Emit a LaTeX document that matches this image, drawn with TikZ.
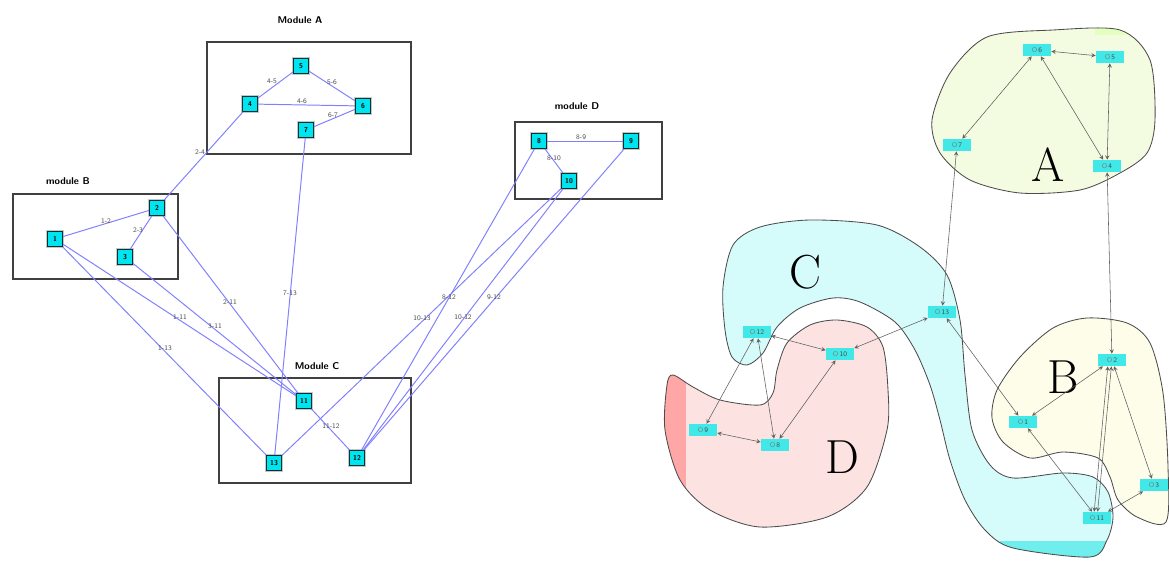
\documentclass[tikz,border=0pt]{standalone}
\usepackage{tikz}
\usetikzlibrary{arrows}
\definecolor{boxcyan}{RGB}{0,228,240}
\definecolor{linkblue}{RGB}{128,128,255}
\definecolor{tagcyan}{RGB}{64,232,232}
\definecolor{zoneA}{RGB}{243,251,224}
\definecolor{zoneB}{RGB}{253,253,234}
\definecolor{zoneC}{RGB}{214,251,251}
\definecolor{zoneD}{RGB}{253,226,226}
\def\zoneApath{plot[smooth cycle] coordinates {(987,37) (1053,30) (1120,30) (1150,60) (1155,120) (1147,153) (1120,173) (1080,190) (1020,193) (970,180) (940,153) (932,120) (950,73)}}
\def\zoneBpath{plot[smooth cycle] coordinates {(1087,318) (1127,323) (1150,343) (1163,393) (1168,467) (1166,522) (1137,517) (1118,500) (1110,477) (1098,458) (1063,452) (1030,458) (1003,442) (992,418) (997,390) (1020,357) (1053,328)}}
\def\zoneCpath{plot[smooth cycle] coordinates {(723,287) (733,245) (760,227) (810,220) (877,225) (920,247) (947,275) (960,320) (965,375) (972,430) (990,465) (1013,478) (1063,473) (1093,477) (1108,492) (1113,517) (1107,540) (1090,557) (1013,548) (985,530) (965,500) (950,460) (940,420) (930,385) (915,350) (895,322) (860,302) (833,298) (800,308) (777,327) (763,353) (747,365) (732,357) (725,330)}}
\def\zoneDpath{plot[smooth cycle] coordinates {(787,343) (810,325) (837,320) (867,327) (883,347) (888,390) (887,430) (867,487) (827,517) (760,527) (710,510) (680,480) (665,430) (667,385) (673,375) (693,387) (720,400) (760,405) (773,393) (777,370)}}

\begin{document}
\begin{tikzpicture}[x=0.025cm, y=-0.025cm,
	modbox/.style={draw=black!75, line width=1.6pt},
	modtitle/.style={font=\sffamily\bfseries\scriptsize},
	lnode/.style={draw=teal!40!black, line width=0.6pt, fill=boxcyan, minimum size=0.38cm, inner sep=0pt, font=\sffamily\bfseries\tiny, preaction={draw=gray!45, line width=2.2pt}},
	link/.style={linkblue, line width=0.7pt},
	elabel/.style={font=\sffamily\tiny, text=black!70, inner sep=0.5pt},
	rnode/.style={fill=tagcyan, minimum width=0.7cm, minimum height=0.3cm, inner sep=0pt, font=\sffamily\tiny, text=gray!60!black},
	rlink/.style={<->, >=stealth, gray!75!black, line width=0.4pt},
	zonetag/.style={font=\fontsize{34}{34}\selectfont}]
			%%%%% START %%%%%
			\useasboundingbox (0,0) rectangle (1169,560);
			
			% left: modules
			\draw[modbox] (207,42) rectangle (411,154);
			\node[modtitle] (titleA) at (300,20) {Module A};
			\draw[modbox] (13,194) rectangle (178,279);
			\node[modtitle] (titleB) at (68,181) {module B};
			\draw[modbox] (515,122) rectangle (662,199);
			\node[modtitle] (titleD) at (577,106) {module D};
			\draw[modbox] (219,378) rectangle (411,483);
			\node[modtitle] (titleC) at (317,366) {Module C};
			
			\node[lnode] (m1) at (55,239) {1};
			\node[lnode] (m2) at (157,208) {2};
			\node[lnode] (m3) at (125,257) {3};
			\node[lnode] (m4) at (250,104) {4};
			\node[lnode] (m5) at (301,66) {5};
			\node[lnode] (m6) at (363,106) {6};
			\node[lnode] (m7) at (306,130) {7};
			\node[lnode] (m8) at (539,141) {8};
			\node[lnode] (m9) at (631,141) {9};
			\node[lnode] (m10) at (569,181) {10};
			\node[lnode] (m11) at (304,401) {11};
			\node[lnode] (m12) at (357,458) {12};
			\node[lnode] (m13) at (274,463) {13};
			
			\draw[link] (m1) -- (m2);
			\draw[link] (m2) -- (m3);
			\draw[link] (m2) -- (m4);
			\draw[link] (m4) -- (m5);
			\draw[link] (m4) -- (m6);
			\draw[link] (m5) -- (m6);
			\draw[link] (m6) -- (m7);
			\draw[link] (m7) -- (m13);
			\draw[link] (m1) -- (m11);
			\draw[link] (m1) -- (m13);
			\draw[link] (m2) -- (m11);
			\draw[link] (m3) -- (m11);
			\draw[link] (m8) -- (m9);
			\draw[link] (m8) -- (m10);
			\draw[link] (m8) -- (m12);
			\draw[link] (m9) -- (m12);
			\draw[link] (m10) -- (m12);
			\draw[link] (m10) -- (m13);
			\draw[link] (m11) -- (m12);
			
			\node[elabel] (e12) at (106,221) {1-2};
			\node[elabel] (e23) at (138,230) {2-3};
			\node[elabel] (e24) at (200,152) {2-4};
			\node[elabel] (e45) at (272,81) {4-5};
			\node[elabel] (e56) at (332,82) {5-6};
			\node[elabel] (e46) at (302,101) {4-6};
			\node[elabel] (e67) at (333,115) {6-7};
			\node[elabel] (e89) at (581,137) {8-9};
			\node[elabel] (e810) at (554,158) {8-10};
			\node[elabel] (e211) at (230,302) {2-11};
			\node[elabel] (e713) at (290,293) {7-13};
			\node[elabel] (e111) at (180,317) {1-11};
			\node[elabel] (e311) at (215,326) {3-11};
			\node[elabel] (e113) at (165,348) {1-13};
			\node[elabel] (e812) at (449,297) {8-12};
			\node[elabel] (e912) at (494,297) {9-12};
			\node[elabel] (e1013) at (422,318) {10-13};
			\node[elabel] (e1012) at (463,317) {10-12};
			\node[elabel] (e1112) at (331,426) {11-12};
			
			% right: zones
			\fill[zoneC] \zoneCpath;
			\begin{scope}
				\clip \zoneCpath;
				\fill[tagcyan!75] (1000,541) rectangle (1120,560);
			\end{scope}
			\draw[black!70, line width=0.6pt] \zoneCpath;
			
			\fill[zoneD] \zoneDpath;
			\begin{scope}
				\clip \zoneDpath;
				\fill[red!35] (660,360) rectangle (686,500);
			\end{scope}
			\draw[black!70, line width=0.6pt] \zoneDpath;
			
			\fill[zoneA] \zoneApath;
			\begin{scope}
				\clip \zoneApath;
				\fill[green!40!yellow!25] (1095,25) rectangle (1160,35);
			\end{scope}
			\draw[black!70, line width=0.6pt] \zoneApath;
			
			\fill[zoneB] \zoneBpath;
			\draw[black!70, line width=0.6pt] \zoneBpath;
			
			\node[zonetag] (tagA) at (1048,165) {A};
			\node[zonetag] (tagB) at (1063,377) {B};
			\node[zonetag] (tagC) at (805,272) {C};
			\node[zonetag] (tagD) at (842,457) {D};
			
			\node[rnode] (n1) at (1023,422) {\textcolor{gray}{O}\,1};
			\node[rnode] (n2) at (1112,360) {\textcolor{gray}{O}\,2};
			\node[rnode] (n3) at (1154,485) {\textcolor{gray}{O}\,3};
			\node[rnode] (n4) at (1107,166) {\textcolor{gray}{O}\,4};
			\node[rnode] (n5) at (1110,57) {\textcolor{gray}{O}\,5};
			\node[rnode] (n6) at (1037,50) {\textcolor{gray}{O}\,6};
			\node[rnode] (n7) at (957,145) {\textcolor{gray}{O}\,7};
			\node[rnode] (n8) at (775,445) {\textcolor{gray}{O}\,8};
			\node[rnode] (n9) at (703,430) {\textcolor{gray}{O}\,9};
			\node[rnode] (n10) at (840,354) {\textcolor{gray}{O}\,10};
			\node[rnode] (n11) at (1097,518) {\textcolor{gray}{O}\,11};
			\node[rnode] (n12) at (757,332) {\textcolor{gray}{O}\,12};
			\node[rnode] (n13) at (942,312) {\textcolor{gray}{O}\,13};
			
			\draw[rlink] (n6) -- (n5);
			\draw[rlink] (n6) -- (n7);
			\draw[rlink] (n6) -- (n4);
			\draw[rlink] (n5) -- (n4);
			\draw[rlink] (n7) -- (n13);
			\draw[rlink] (n4) -- (n2);
			\draw[rlink] (n13) -- (n10);
			\draw[rlink] (n13) -- (n1);
			\draw[rlink] (n12) -- (n10);
			\draw[rlink] (n12) -- (n9);
			\draw[rlink] (n12) -- (n8);
			\draw[rlink] (n10) -- (n8);
			\draw[rlink] (n9) -- (n8);
			\draw[rlink] (n2) -- (n1);
			\draw[rlink] (n2) -- (n3);
			\draw[rlink] (n2) -- (n11);
			\draw[rlink] ([xshift=-3pt]n2.south) -- ([xshift=-2pt]n11.north);
			\draw[rlink] (n1) -- (n11);
			\draw[rlink] (n3) -- (n11);
			
			%%%%% END %%%%%
\end{tikzpicture}
\end{document}
